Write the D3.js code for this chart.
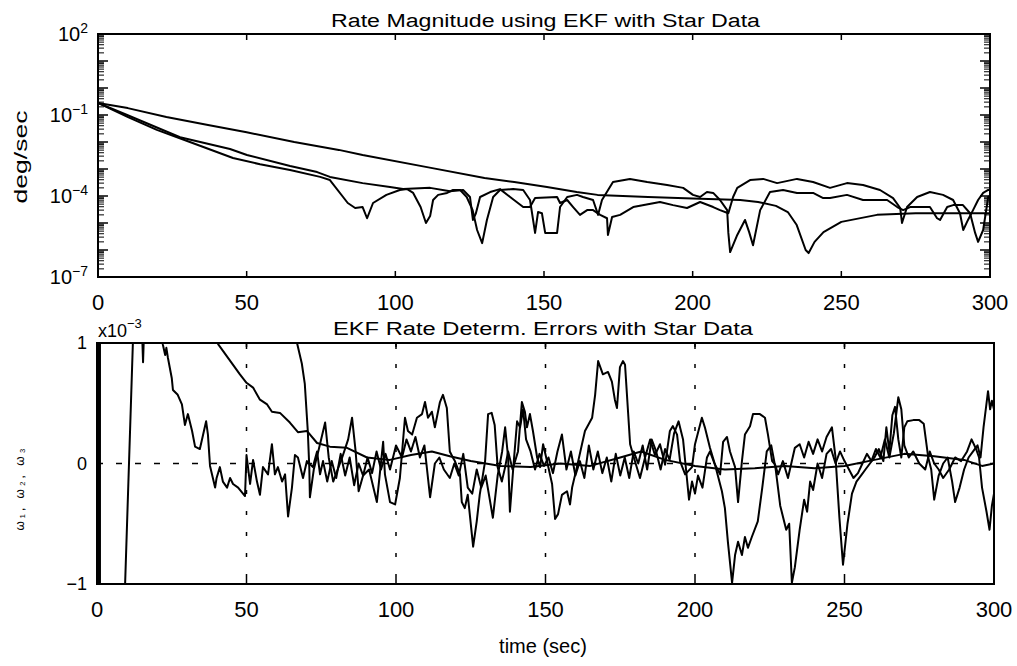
<!DOCTYPE html>
<html>
<head>
<meta charset="utf-8">
<script src="https://cdn.jsdelivr.net/npm/d3@7"></script>
<style>
  body { margin: 0; background: #fff; }
  svg { display: block; }
  text { font-family: "Liberation Sans", Arial, sans-serif; fill: #000; }
</style>
</head>
<body>
<svg id="chart" width="1017" height="666"></svg>
<script>
// ---- Rate magnitude (deg/sec), three filter runs: [time s, rate] ----
const rateSmooth = [[0,2.8e-1],[10,1.8e-1],[23,8.4e-2],[37,4.3e-2],[50,2.3e-2],[66,1.0e-2],[81,5.1e-3],[89,3.3e-3],
  [112,1.1e-3],[130,4.6e-4],[140,3.3e-4],[151,2.15e-4],[161,1.4e-4],[168,1.1e-4],[185,9.2e-5],[200,8.0e-5],
  [216,7.1e-5],[222,6.0e-5],[228,4.3e-5],[232,2.55e-5],[235,8.4e-6],[238,1.0e-6],[239,7.7e-7],[241,2.0e-6],
  [244,4.6e-6],[250,1.1e-5],[262,2.0e-5],[275,2.3e-5],[300,2.3e-5]];

const rateRunB = [[0,2.8e-1],[10.1,8.4e-2],[19.8,2.8e-2],[30.9,1.0e-2],[45.4,2.55e-3],[54.5,1.5e-3],[64.6,9.2e-4],
  [74.7,5.1e-4],[78,3.9e-4],[84,5.5e-5],[86.5,3.6e-5],[89,3.9e-5],[90.5,1.5e-5],[92.5,5.5e-5],[97,1.1e-4],
  [101.5,1.67e-4],[104,1.8e-4],[106,1.3e-4],[108.5,3.9e-5],[110.3,1.0e-5],[111.7,1.8e-5],[112.7,7.1e-5],
  [114.4,1.1e-4],[117.4,1.3e-4],[119.4,1.67e-4],[121.8,1.67e-4],[124,9.2e-5],[126,3.0e-5],[127.5,5.5e-6],
  [129.2,1.8e-6],[130.8,1.3e-5],[132.9,9.2e-5],[135.2,1.67e-4],[139.6,1.8e-4],[143,1.67e-4],[145.3,7.1e-5],
  [147,4.3e-6],[148,2.55e-5],[149.3,2.3e-5],[150.4,4.3e-6],[154.4,4.3e-6],[155.4,3.9e-5],[157.8,9.2e-5],
  [161.1,1.1e-4],[163.1,9.2e-5],[166.5,7.1e-5],[168.2,2.0e-5],[169.5,7.1e-5],[173.2,3.3e-4],[178.9,4.3e-4],
  [184.7,3.3e-4],[191.4,2.55e-4],[196.8,2.0e-4],[200.1,1.1e-4],[202.5,9.2e-5],[204.8,1.4e-4],[206.9,1.3e-4],
  [209.2,7.1e-5],[211.6,3.0e-5],[212,4.3e-6],[212.6,8.4e-7],[215,3.6e-6],[217.6,1.3e-5],[219,4.6e-6],
  [220.3,1.5e-6],[222.7,3.0e-5],[226,1.4e-4],[230.4,1.67e-4],[235.1,1.3e-4],[240.5,1.3e-4],[243.9,8.4e-5],
  [246.2,8.4e-5],[251.9,1.1e-4],[257.3,7.1e-5],[265.4,7.1e-5],[268.8,3.9e-5],[270.8,3.0e-5],[273.1,3.9e-5],
  [279.8,3.9e-5],[282.2,1.5e-5],[283.2,1.3e-5],[285.6,3.9e-5],[287.6,4.6e-5],[290.9,4.6e-5],[293.3,2.3e-5],
  [295,4.3e-6],[296,2.0e-6],[297.7,5.5e-6],[299.4,9.2e-5],[300,1.0e-4]];

const rateRunC = [[0,2.8e-1],[9.8,1.0e-1],[27.6,1.5e-2],[44.4,5.5e-3],[50.1,3.3e-3],[64.6,1.3e-3],[73.7,7.7e-4],
  [78,5.1e-4],[89,3.0e-4],[98.2,2.15e-4],[102.6,1.8e-4],[111.7,2.0e-4],[118.4,1.5e-4],[122.8,1.67e-4],
  [125.1,9.2e-5],[126.1,1.3e-5],[127.1,2.3e-5],[128.5,9.2e-5],[131.9,1.4e-4],[135.2,1.8e-4],[138.6,9.2e-5],
  [143,3.9e-5],[145.3,3.9e-5],[147,8.4e-5],[154.4,9.2e-5],[155.4,5.5e-5],[157.8,7.1e-5],[159.8,3.9e-5],
  [162.1,2.0e-5],[164.5,3.0e-5],[166.5,3.0e-5],[168.9,2.0e-5],[171.2,1.5e-5],[171.5,3.6e-6],[172.9,1.67e-5],
  [175.6,2.0e-5],[180,3.9e-5],[189,6.0e-5],[193.4,4.6e-5],[198.1,3.6e-5],[202.5,6.0e-5],[206.9,3.9e-5],
  [209.2,3.0e-5],[212,2.3e-5],[213.6,9.2e-5],[215,2.0e-4],[219.3,3.9e-4],[223.7,4.3e-4],[228.4,3.0e-4],
  [235.1,4.3e-4],[240.5,3.3e-4],[246.2,2.0e-4],[251.9,3.0e-4],[257.3,2.55e-4],[263,1.67e-4],[267.4,8.4e-5],
  [269.8,3.6e-5],[270.4,1.0e-5],[272.1,3.9e-5],[275.5,9.2e-5],[279.8,1.4e-4],[284.2,1.1e-4],[287.6,7.1e-5],
  [289.9,2.3e-5],[291,5.5e-6],[292.6,1.3e-5],[294.3,3.0e-5],[296,7.1e-5],[297.7,1.3e-4],[299.4,1.67e-4],[300,1.67e-4]];

// ---- Rate determination errors (units of 1e-3): [time s, error] ----
const errAxis1 = [[0,-30],[0.3,30],[0.6,-30],[1,-12],[9.4,-1],[12,1],[13,1.6],[14.8,1.3],[15.4,0.84],[16,1.3],
  [20,1.6],[22,0.99],[22.8,0.9],[23.2,0.96],[23.7,0.88],[25,0.71],[25.4,0.61],[27,0.57],[28.4,0.49],[29.4,0.32],
  [30.4,0.41],[31.8,0.27],[32.8,0.14],[34.4,0.12],[35.5,0.24],[36.5,0.35],[37.1,0.24],[37.8,-0.02],[39.5,-0.2],
  [40,-0.12],[41.1,-0.03],[42.1,-0.15],[43.5,-0.2],[44.5,-0.12],[45.5,-0.17],[47.2,-0.2],[49.5,-0.27],[50,0.07],
  [51.2,-0.17],[52.2,0.03],[53.5,-0.15],[54.5,-0.26],[55.5,-0.03],[57.2,-0.09],[58.5,0.16],[59.5,-0.09],
  [60.5,-0.03],[61.9,-0.15],[62.9,-0.09],[63.9,-0.44],[65.2,-0.2],[66.2,0.07],[67.2,0.05],[68.9,-0.12],
  [70.2,0.02],[72.2,-0.03],[73.6,0.1],[74.6,-0.09],[75.6,0.02],[77,-0.15],[78.5,0.02],[80,-0.12],[81.5,0.08],
  [83,-0.1],[84.5,0.05],[86,-0.18],[87.5,0],[89,-0.1],[90.5,0.05],[92,-0.08],[93.5,0.1],[95,-0.05],[96.5,0.08],
  [98,-0.05],[100,0.15],[102,0.05],[103.5,0.2],[105,0.1],[106.5,0.22],[108,0.05],[109.5,0.15],[111.4,-0.28],
  [113,0],[114.5,0.05],[116,-0.05],[118,-0.12],[119.5,0],[121,-0.1],[122.5,0.08],[124,-0.2],[125.5,-0.25],
  [127,-0.05],[128.5,-0.2],[130,-0.1],[132.4,-0.45],[134,-0.1],[135.5,0.1],[136.5,0.3],[137.5,0.05],[138.1,-0.4],
  [139.5,0.05],[140.5,0.35],[141.5,0.3],[142.5,0.45],[143.5,0.2],[145,0.1],[146.5,-0.05],[148,0.08],[149.5,-0.02],
  [151,0.05],[152.5,-0.08],[154,0.1],[155.5,0.24],[157,-0.05],[158.5,0.1],[160,-0.1],[161.5,0.02],[163,-0.12],
  [164.5,0.15],[166,-0.05],[167.5,0.1],[169,-0.08],[170.5,0.05],[172,-0.15],[173.5,0.08],[175,-0.1],[176.5,0.05],
  [178,-0.12],[179.5,0.1],[181,0],[182.5,0.15],[184,-0.05],[185.5,0.2],[187,0.1],[188.5,-0.05],[190,0.12],
  [191.5,0.03],[193,0.25],[194.5,0.35],[196,0.2],[197,-0.05],[198,-0.3],[199,-0.15],[200,-0.25],[201,-0.1],
  [202.5,-0.2],[204,0.05],[205,0.1],[206.5,0],[208.4,-0.09],[209.4,0.18],[210.7,0.22],[211.7,0.1],[213.4,-0.03],
  [214.4,-0.32],[215.7,0.02],[216.7,0.24],[218.4,0.31],[219.4,0.41],[221.7,0.41],[223.4,0.38],[224.4,0.24],
  [225.8,0.02],[226.8,-0.01],[227.8,-0.09],[229.4,0.02],[231.1,-0.12],[233.4,0.13],[235,0.16],[236.5,0.05],
  [238,0.18],[239.5,0.08],[241,0.2],[242.5,0.1],[244,0.22],[245.8,0.3],[247,0.05],[248.3,-0.45],[249.5,-0.84],
  [251,-0.5],[252.5,-0.25],[254,-0.15],[255.5,-0.1],[257,-0.05],[258.5,0],[260,0.05],[261.5,0.12],[263,0.02],
  [264,0.3],[265,0.1],[266,0.4],[266.9,0.47],[268,0.2],[269,0.05],[270,0.3],[271,0.35],[273,0.36],[275,0.36],
  [276.5,0.33],[278,0.05],[279,-0.05],[280,-0.3],[281.5,-0.1],[283,0],[284.5,0.05],[286,-0.15],[287,-0.32],
  [288.5,-0.2],[290,-0.05],[291.5,0.05],[293,0.1],[294.5,0.15],[295.5,0.05],[296.5,0.3],[297.5,0.5],[298,0.6],
  [298.7,0.45],[299.3,0.52],[300,0.45]];

const errAxis2 = [[0,-30],[0.4,30],[0.8,-30],[1,10],[35,3],[40.5,0.99],[47.8,0.74],[50,0.67],[52.2,0.63],
  [54.5,0.53],[56.9,0.49],[58.5,0.43],[61.2,0.42],[64.5,0.34],[67.2,0.26],[70.2,0.27],[73.6,0.17],[77.9,0.14],
  [83.6,0.13],[90.3,0.05],[98,0.03],[105,0.07],[112,0.1],[118,0.06],[125,0.02],[135,-0.02],[145,-0.03],[155,0],
  [165,-0.02],[175,0.05],[182,0.1],[190,0.03],[200,-0.02],[210,-0.05],[220,-0.04],[230,-0.02],[240,-0.04],
  [250,-0.02],[260,0.03],[270,0.08],[280,0.06],[290,0.03],[296,-0.02],[300,0]];

const errAxis3 = [[0,30],[0.25,-30],[0.5,30],[0.8,-30],[1,15],[60,5],[66.9,1],[68.5,0.83],[69.5,0.66],
  [70.5,0.27],[71,-0.03],[71.2,-0.28],[72.5,-0.05],[74,0.1],[76.3,0.34],[77.5,0.05],[79,-0.15],[80.5,-0.05],
  [82,0.05],[84,0.2],[85.3,0.38],[86.5,0.1],[87.5,-0.23],[89,-0.1],[91,-0.05],[93.6,-0.32],[95.7,0.18],
  [96.3,-0.09],[98,-0.32],[99.7,-0.34],[101.3,-0.12],[103,0.38],[104,0.27],[105.4,0.24],[107,0.38],[108.7,0.41],
  [109.7,0.51],[110.7,0.38],[112,0.43],[113,0.3],[114.7,0.51],[115.7,0.57],[117,0.46],[118,0.1],[119,0.05],
  [119.7,0.02],[121.4,-0.09],[122,-0.32],[123,-0.37],[124,-0.26],[125.8,-0.69],[127,-0.48],[128,-0.26],
  [129.8,0.02],[130.8,0.41],[132,0.42],[133,0.32],[134,-0.03],[135.4,-0.15],[136.5,-0.03],[137.5,0.1],
  [139,-0.05],[140.8,0.1],[142.1,0.51],[143.1,0.43],[143.8,0.3],[144.8,0.41],[145.8,0.27],[147.2,0.05],
  [148.2,-0.03],[149.2,0.16],[150.5,0.02],[152.2,-0.17],[153.2,-0.46],[154.2,-0.42],[155.5,-0.26],[157.2,-0.23],
  [158.2,-0.34],[158.9,-0.2],[160.5,-0.03],[162.2,0.16],[163.2,0.27],[165.6,0.38],[166.6,0.57],[167.6,0.85],
  [169.2,0.74],[170.9,0.76],[172.2,0.68],[173.2,0.53],[173.9,0.46],[174.9,0.8],[175.9,0.85],[176.6,0.82],
  [178.3,0.16],[179.9,0.02],[181.6,-0.12],[183.3,0.05],[185,0.2],[186.6,0.07],[188.3,0.16],[190,-0.01],
  [191.6,0.27],[192.6,0.31],[194,0.24],[195,0.02],[196.7,-0.09],[199,-0.03],[200,0.16],[202.3,0.38],[203.3,0.3],
  [205,0.13],[206.7,-0.01],[209,-0.23],[210,-0.37],[211,-0.65],[212.4,-0.99],[213.4,-0.76],[214.4,-0.65],
  [215.7,-0.76],[216.7,-0.61],[217.7,-0.7],[219,-0.61],[221,-0.48],[222.5,-0.2],[224,0.1],[225.5,0.15],
  [227,-0.05],[228.5,-0.35],[230.5,-0.55],[231.5,-0.5],[232.4,-0.99],[233.4,-0.86],[235,-0.55],[236.5,-0.3],
  [237.5,-0.4],[238.5,-0.15],[239.5,-0.22],[241,0],[242.5,-0.12],[244,0.08],[245.5,0.12],[247,0],[248.5,0.1],
  [250,0.02],[251.5,-0.05],[253,-0.12],[254.5,-0.08],[256,0],[257.5,0.08],[259,0.02],[260.5,0.12],[262,0.05],
  [263.5,0.2],[265,0.05],[266.5,0.25],[268,0.55],[269,0.45],[270,0.15],[271.5,0.05],[273,0.1],[275,0],
  [277,-0.05],[278.5,0.1],[280,0],[281.5,-0.05],[283,-0.12],[285,-0.05],[287,0.05],[289,0.02],[291,0.1],
  [292.5,0.2],[294,0.12],[295,0.05],[296,-0.2],[297.5,-0.4],[298.5,-0.55],[299.3,-0.35],[300,-0.25]];

// ---- Axis ticks and labels ----
const timeTicks = [0, 50, 100, 150, 200, 250, 300];
const gridTimes = [50, 100, 150, 200, 250];
const rateDecades = [1e2, 1e1, 1e0, 1e-1, 1e-2, 1e-3, 1e-4, 1e-5, 1e-6, 1e-7];
const rateLabels = [{v: 1e2, exp: "2"}, {v: 1e-1, exp: "−1"}, {v: 1e-4, exp: "−4"}, {v: 1e-7, exp: "−7"}];
const errTicks = [{v: 1, t: "1"}, {v: 0, t: "0"}, {v: -1, t: "−1"}];

const svg = d3.select("#chart");

// ================= Upper panel: rate magnitude, log scale =================
const upper = {l: 98, r: 990, t: 34, b: 277};
const xUp = d3.scaleLinear().domain([0, 300]).range([upper.l, upper.r]);
const yUp = d3.scaleLog().domain([1e-7, 1e2]).range([upper.b, upper.t]);

svg.append("text").attr("x", 545.5).attr("y", 27).attr("text-anchor", "middle")
  .attr("font-size", 18).attr("textLength", 429).attr("lengthAdjust", "spacingAndGlyphs")
  .text("Rate Magnitude using EKF with Star Data");

const gUp = svg.append("g");
svg.append("clipPath").attr("id", "clipUp").append("rect")
  .attr("x", upper.l).attr("y", upper.t).attr("width", upper.r - upper.l).attr("height", upper.b - upper.t);

const lineUp = d3.line().x(d => xUp(d[0])).y(d => yUp(d[1]));
[rateSmooth, rateRunB, rateRunC].forEach(s => {
  gUp.append("path").datum(s).attr("d", lineUp).attr("clip-path", "url(#clipUp)")
    .attr("fill", "none").attr("stroke", "#000").attr("stroke-width", 2)
    .attr("stroke-linejoin", "round");
});

// log ticks on both vertical edges (decades long, 2..9 short)
const minorVals = [];
rateDecades.slice(1).forEach(d => { for (let m = 2; m <= 9; m++) minorVals.push(d * m); });
rateDecades.forEach(v => {
  gUp.append("line").attr("x1", upper.l).attr("x2", upper.l + 10).attr("y1", yUp(v)).attr("y2", yUp(v))
    .attr("stroke", "#000").attr("stroke-width", 1.5);
  gUp.append("line").attr("x1", upper.r).attr("x2", upper.r - 10).attr("y1", yUp(v)).attr("y2", yUp(v))
    .attr("stroke", "#000").attr("stroke-width", 1.5);
});
minorVals.forEach(v => {
  gUp.append("line").attr("x1", upper.l).attr("x2", upper.l + 6).attr("y1", yUp(v)).attr("y2", yUp(v))
    .attr("stroke", "#000").attr("stroke-width", 1);
  gUp.append("line").attr("x1", upper.r).attr("x2", upper.r - 6).attr("y1", yUp(v)).attr("y2", yUp(v))
    .attr("stroke", "#000").attr("stroke-width", 1);
});
timeTicks.forEach(t => {
  gUp.append("line").attr("x1", xUp(t)).attr("x2", xUp(t)).attr("y1", upper.t).attr("y2", upper.t + 6)
    .attr("stroke", "#000").attr("stroke-width", 1.5);
  gUp.append("line").attr("x1", xUp(t)).attr("x2", xUp(t)).attr("y1", upper.b).attr("y2", upper.b - 6)
    .attr("stroke", "#000").attr("stroke-width", 1.5);
  svg.append("text").attr("x", xUp(t)).attr("y", 310).attr("text-anchor", "middle")
    .attr("font-size", 22).text(t);
});
gUp.append("rect").attr("x", upper.l).attr("y", upper.t).attr("width", upper.r - upper.l).attr("height", upper.b - upper.t)
  .attr("fill", "none").attr("stroke", "#000").attr("stroke-width", 2);

rateLabels.forEach(d => {
  const tx = svg.append("text").attr("x", 88).attr("y", yUp(d.v) + 7).attr("text-anchor", "end")
    .attr("font-size", 20);
  tx.append("tspan").text("10");
  tx.append("tspan").attr("dy", -8).attr("font-size", 14).text(d.exp);
});

svg.append("text").attr("transform", "translate(27,157) rotate(-90)").attr("text-anchor", "middle")
  .attr("font-size", 19).attr("textLength", 93).attr("lengthAdjust", "spacingAndGlyphs").text("deg/sec");

// ================= Lower panel: rate errors =================
const lower = {l: 97, r: 994, t: 343, b: 584};
const xLo = d3.scaleLinear().domain([0, 300]).range([lower.l, lower.r]);
const yLo = d3.scaleLinear().domain([-1, 1]).range([lower.b, lower.t]);

svg.append("text").attr("x", 543).attr("y", 335).attr("text-anchor", "middle")
  .attr("font-size", 18).attr("textLength", 420).attr("lengthAdjust", "spacingAndGlyphs")
  .text("EKF Rate Determ. Errors with Star Data");

const gLo = svg.append("g");
svg.append("clipPath").attr("id", "clipLo").append("rect")
  .attr("x", lower.l).attr("y", lower.t).attr("width", lower.r - lower.l).attr("height", lower.b - lower.t);

gridTimes.forEach(t => {
  gLo.append("line").attr("x1", xLo(t)).attr("x2", xLo(t)).attr("y1", lower.t).attr("y2", lower.b)
    .attr("stroke", "#000").attr("stroke-width", 1.5).attr("stroke-dasharray", "4,17");
});
gLo.append("line").attr("x1", lower.l).attr("x2", lower.r).attr("y1", yLo(0)).attr("y2", yLo(0))
  .attr("stroke", "#000").attr("stroke-width", 1.5).attr("stroke-dasharray", "6,13");

const lineLo = d3.line().x(d => xLo(d[0])).y(d => yLo(d[1]));
[errAxis1, errAxis2, errAxis3].forEach(s => {
  gLo.append("path").datum(s).attr("d", lineLo).attr("clip-path", "url(#clipLo)")
    .attr("fill", "none").attr("stroke", "#000").attr("stroke-width", 2)
    .attr("stroke-linejoin", "round");
});

timeTicks.forEach(t => {
  gLo.append("line").attr("x1", xLo(t)).attr("x2", xLo(t)).attr("y1", lower.t).attr("y2", lower.t + 6)
    .attr("stroke", "#000").attr("stroke-width", 1.5);
  gLo.append("line").attr("x1", xLo(t)).attr("x2", xLo(t)).attr("y1", lower.b).attr("y2", lower.b - 6)
    .attr("stroke", "#000").attr("stroke-width", 1.5);
  svg.append("text").attr("x", xLo(t)).attr("y", 617).attr("text-anchor", "middle")
    .attr("font-size", 22).text(t);
});
gLo.append("rect").attr("x", lower.l).attr("y", lower.t).attr("width", lower.r - lower.l).attr("height", lower.b - lower.t)
  .attr("fill", "none").attr("stroke", "#000").attr("stroke-width", 2);

errTicks.forEach(d => {
  svg.append("text").attr("x", 87).attr("y", yLo(d.v) + 6).attr("text-anchor", "end")
    .attr("font-size", 18).text(d.t);
});
const sc = svg.append("text").attr("x", 98).attr("y", 337).attr("font-size", 18);
sc.append("tspan").text("x10");
sc.append("tspan").attr("dy", -9).attr("font-size", 13).text("−3");

svg.append("text").attr("transform", "translate(24,488) rotate(-90)").attr("text-anchor", "middle")
  .attr("font-size", 12).attr("letter-spacing", 3).text("ω₁, ω₂, ω₃");

svg.append("text").attr("x", 543).attr("y", 653).attr("text-anchor", "middle")
  .attr("font-size", 20).text("time (sec)");
</script>
</body>
</html>
